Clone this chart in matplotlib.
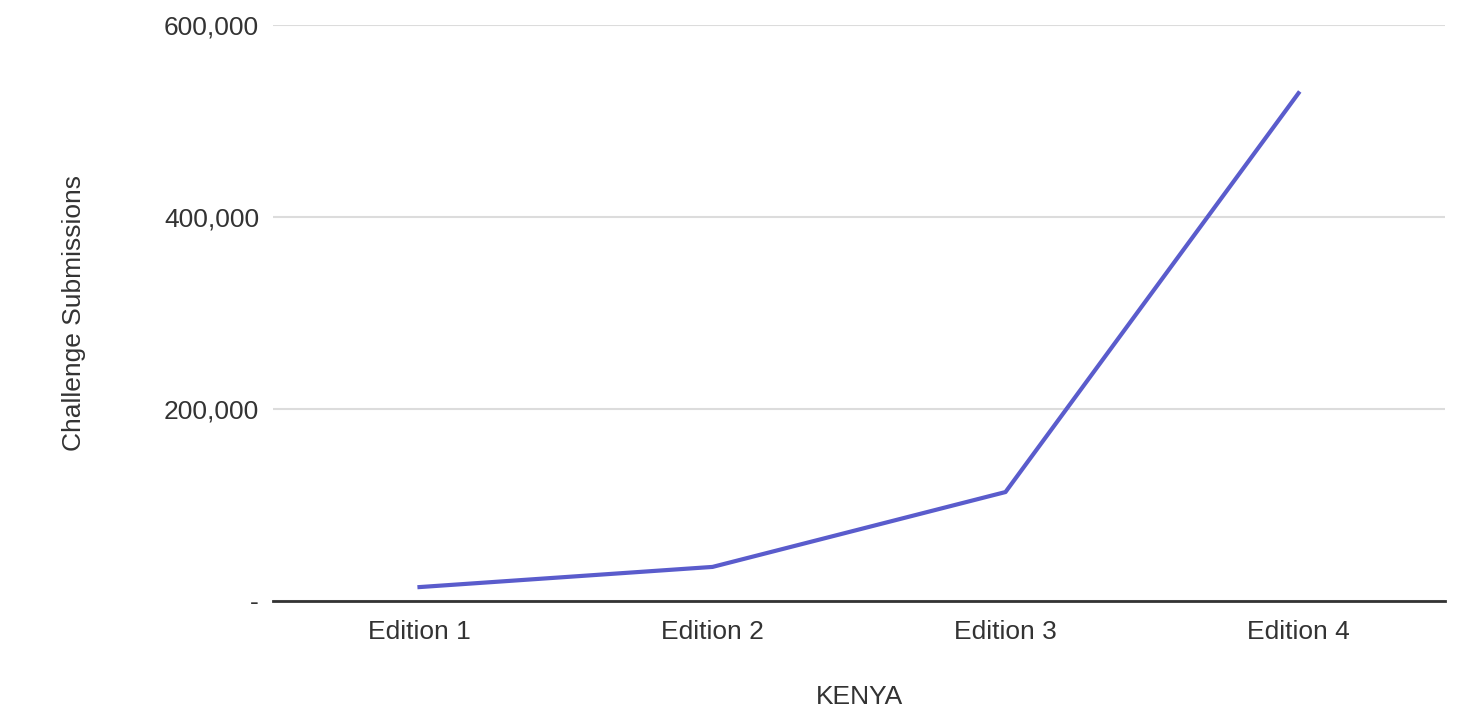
import matplotlib

matplotlib.use("Agg")
import matplotlib.pyplot as plt  # noqa: E402
from matplotlib.ticker import FuncFormatter  # noqa: E402

plt.rcParams["font.family"] = ["Liberation Sans", "DejaVu Sans"]

EDITIONS = ["Edition 1", "Edition 2", "Edition 3", "Edition 4"]
SUBMISSIONS = [14500, 35500, 113500, 529000]
YTICKS = [0, 200000, 400000, 600000]


def fmt(v, _pos):
    # accounting style: zero shown as a dash
    return "-" if v == 0 else f"{int(v):,}"


fig = plt.figure(figsize=(14.7, 7.12), dpi=100)
ax = fig.add_axes([273 / 1470, 1 - 601 / 712, (1445 - 273) / 1470, (601 - 25) / 712])

ax.plot(range(len(EDITIONS)), SUBMISSIONS, color="#5a5ccc", lw=3, solid_joinstyle="round")

ax.set_xlim(-0.5, len(EDITIONS) - 0.5)
ax.set_ylim(0, 600000)
ax.set_yticks(YTICKS)
ax.yaxis.set_major_formatter(FuncFormatter(fmt))
ax.set_xticks(range(len(EDITIONS)))
ax.set_xticklabels(EDITIONS)
ax.grid(axis="y", color="#dcdcdc", lw=1.5)
ax.set_axisbelow(True)
for s in ("top", "right", "left"):
    ax.spines[s].set_visible(False)
ax.spines["bottom"].set_color("#333333")
ax.spines["bottom"].set_linewidth(2)
ax.tick_params(length=0, labelsize=19, colors="#333333")
ax.tick_params(axis="y", pad=10)
ax.tick_params(axis="x", pad=14)

ax.set_xlabel("KENYA", fontsize=19, color="#333333", labelpad=29)
ax.set_ylabel("Challenge Submissions", fontsize=19, color="#333333", labelpad=56)

fig.savefig("out.png", dpi=100)
plt.close(fig)
